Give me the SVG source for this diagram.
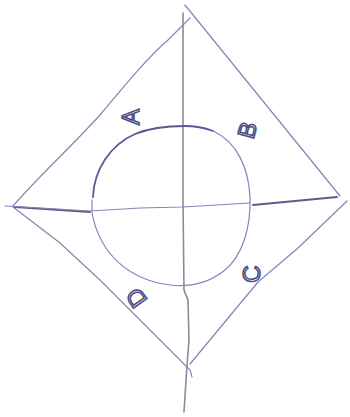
<svg xmlns="http://www.w3.org/2000/svg" width="350" height="417" viewBox="0 0 350 417">
<style>
.p{fill:none;stroke:#8484b8;stroke-width:1.2;stroke-linecap:round;stroke-linejoin:round}
.d{fill:none;stroke:#5a5a90;stroke-width:1.8;stroke-linecap:round}
.g{fill:none;stroke:#8a8a9a;stroke-width:1.6;stroke-linecap:round}
.t{font-family:"Liberation Sans",Arial,sans-serif;font-size:24px;fill:none;stroke:#4c4c86;stroke-width:1.5;text-anchor:middle;dominant-baseline:central}
</style>
<rect width="350" height="417" fill="#ffffff"/>
<g id="diamond">
<path class="p" d="M13,206 C40,175 70,148 100,115 C125,85 150,55 168,40 C176,32 184,24 190,18"/>
<path class="p" d="M185,5 L340,196"/>
<path class="p" d="M347,201 L298,248 L258,282 L190,364"/>
<path class="p" d="M13,207 L60,243 L100,280 L190,370 L192,377"/>
</g>
<g id="axes">
<path class="g" d="M183,13 L183,120 L183,200 L184,290 L188,300 L189,340 L187,365 L184,412"/>
<path class="d" d="M15,207 L90,212"/>
<path class="p" d="M5,206 L40,208 L90,211 L140,208 L183,207 L250,203"/>
<path class="d" d="M253,205 L337,197"/>
</g>
<g id="circle">
<path class="d" d="M93,197 C94,170 110,145 135,134 C152,127 170,126 185,126 C195,126 205,128 213,131"/>
<path class="p" d="M213,131 C238,142 249,170 250,198 C251,228 242,256 225,270 C208,284 188,287 170,285 C130,280 100,255 92,213 L92,200"/>
</g>
<g id="labels">
<text class="t" transform="translate(130,117) rotate(-90)">A</text>
<text class="t" transform="translate(247,130) rotate(-75)">B</text>
<text class="t" transform="translate(251,274) rotate(-90)">C</text>
<text class="t" transform="translate(136,298) rotate(-125)">D</text>
</g>
</svg>
